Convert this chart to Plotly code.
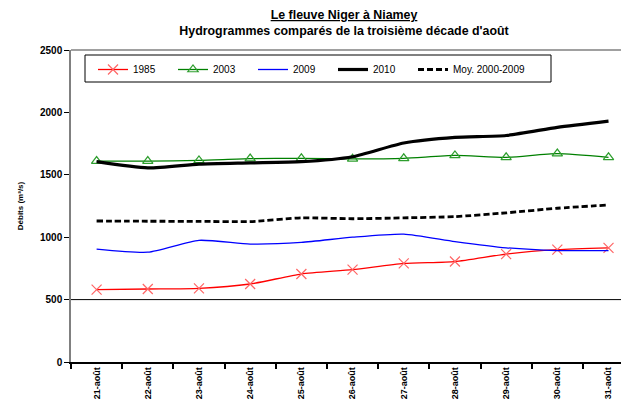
import plotly.graph_objects as go

days = ["21-août", "22-août", "23-août", "24-août", "25-août", "26-août",
        "27-août", "28-août", "29-août", "30-août", "31-août"]

q1985 = [580, 585, 590, 625, 705, 740, 790, 805, 865, 900, 915]
q2003 = [1610, 1610, 1615, 1630, 1632, 1628, 1632, 1655, 1640, 1670, 1640]
q2009 = [905, 880, 975, 945, 958, 1000, 1025, 965, 915, 893, 893]
q2010 = [1605, 1555, 1585, 1595, 1605, 1645, 1755, 1800, 1815, 1880, 1930]
qmoy = [1130, 1128, 1127, 1125, 1155, 1148, 1155, 1165, 1195, 1232, 1258]

y_ticks = [0, 500, 1000, 1500, 2000, 2500]
ref_line = 500

FONT = "Liberation Sans, Arial, sans-serif"

# the page body adds an 8px margin, so the figure is sized to fill the rest
W, H = 621, 402
L, T, B = 63, 42, 48
PW, PH = W - L, H - T - B


def px_x(x):
    return (x - L) / PW


def px_y(y):
    return (H - B - y) / PH


fig = go.Figure()
fig.add_trace(go.Scatter(
    x=days, y=q1985, name="1985", mode="lines+markers",
    line=dict(color="#ff0000", width=1.3, shape="spline", smoothing=0.6),
    marker=dict(symbol="x-thin-open", size=10, color="#ff6666",
                line=dict(color="#ff6666", width=1.2))))
fig.add_trace(go.Scatter(
    x=days, y=q2003, name="2003", mode="lines+markers",
    line=dict(color="#008000", width=1.3, shape="spline", smoothing=0.6),
    marker=dict(symbol="triangle-up-open", size=9, color="#2e9e2e",
                line=dict(color="#2e9e2e", width=1.2))))
fig.add_trace(go.Scatter(
    x=days, y=q2009, name="2009", mode="lines",
    line=dict(color="#0000ff", width=1.3, shape="spline", smoothing=0.6)))
fig.add_trace(go.Scatter(
    x=days, y=q2010, name="2010", mode="lines",
    line=dict(color="#000000", width=3.2, shape="spline", smoothing=0.6)))
fig.add_trace(go.Scatter(
    x=days, y=qmoy, name="Moy. 2000-2009", mode="lines", legend="legend2",
    line=dict(color="#000000", width=2.8, dash="6px,3px",
              shape="spline", smoothing=0.6)))

# reference line at 500 and gray top border of the plot area
fig.add_shape(type="line", xref="paper", yref="y", x0=0, x1=1,
              y0=ref_line, y1=ref_line, line=dict(color="#000000", width=1),
              layer="below")
fig.add_shape(type="line", xref="paper", yref="paper", x0=0, x1=1,
              y0=1, y1=1, line=dict(color="#808080", width=1.5))
# legend frame
fig.add_shape(type="rect", xref="paper", yref="paper",
              x0=px_x(77), x1=px_x(543), y0=px_y(74), y1=px_y(47),
              line=dict(color="black", width=1), fillcolor="white",
              layer="above")

legend_common = dict(
    orientation="h", yanchor="top", y=px_y(47),
    bgcolor="rgba(0,0,0,0)", borderwidth=0,
    font=dict(family=FONT, size=10, color="black"),
    itemwidth=30, tracegroupgap=0)

fig.update_layout(
    width=W, height=H,
    margin=dict(l=L, r=0, t=T, b=B),
    paper_bgcolor="white", plot_bgcolor="white",
    font=dict(family=FONT, color="black"),
    showlegend=True,
    title=dict(
        text="<b><u>Le fleuve Niger à Niamey</u></b><br><b>Hydrogrammes comparés de la troisième décade d'août</b>",
        x=336 / W, xanchor="center", xref="container",
        y=1 - 11 / H, yanchor="top", yref="container",
        font=dict(family=FONT, size=12.4, color="black")),
    legend=dict(x=px_x(85), xanchor="left",
                entrywidth=35, entrywidthmode="pixels", **legend_common),
    legend2=dict(x=px_x(405), xanchor="left", **legend_common),
    xaxis=dict(
        type="category", range=[-0.5, 10.4],
        tickvals=days, ticktext=["<b>%s</b>" % d for d in days],
        showgrid=False, zeroline=False,
        showline=True, linecolor="black", linewidth=1.5,
        ticks="outside", ticklen=5, tickcolor="black", tickwidth=1.5,
        tickson="boundaries", tickangle=-90,
        tickfont=dict(family=FONT, size=9, color="black"),
        fixedrange=True),
    yaxis=dict(
        range=[0, 2500], tickvals=y_ticks,
        ticktext=["<b>%d</b>" % v for v in y_ticks],
        showgrid=False, zeroline=False,
        showline=True, linecolor="#808080", linewidth=1.5,
        ticks="outside", ticklen=5, tickcolor="black", tickwidth=1,
        tickfont=dict(family=FONT, size=10, color="black"),
        title=dict(text="<b>Débits (m³/s)</b>", standoff=15,
                   font=dict(family=FONT, size=8, color="black")),
        fixedrange=True),
)

fig.write_html("out.html")
